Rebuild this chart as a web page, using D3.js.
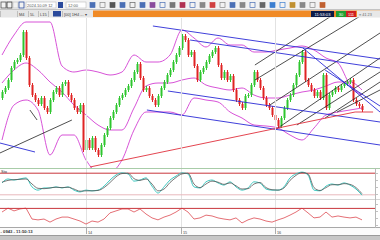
<!DOCTYPE html>
<meta charset="utf-8">
<head>
<style>
body { margin: 0; background: #fff; }
svg { display: block; font-family: "Liberation Sans", Arial, sans-serif; }
</style>
</head>
<body>
<div id="chart"></div>
<script src="https://d3js.org/d3.v7.min.js"></script>
<script>

// ---- data ----
var firstOpen = 107.0;
var closes = [107.6,108.0,108.8,110.0,110.6,110.8,111.3,113.6,111.0,108.3,
  107.3,106.8,106.4,107.0,106.0,105.6,106.8,107.6,108.0,107.3,
  108.4,108.6,107.3,106.8,106.0,105.6,106.3,101.8,102.8,102.0,
  103.0,101.8,101.3,102.3,103.3,104.0,105.0,105.6,106.3,107.0,
  107.3,107.8,108.2,108.8,109.6,110.4,109.0,107.8,108.0,107.2,
  106.8,106.3,107.2,108.0,108.6,109.3,109.8,110.6,111.3,112.0,
  113.2,112.8,111.3,111.6,110.2,108.8,109.6,110.0,110.6,111.2,
  111.6,112.0,110.3,109.0,109.6,108.8,109.2,107.8,106.8,106.4,
  106.0,107.2,107.3,108.3,109.6,108.8,108.0,107.0,106.3,106.0,
  105.3,104.8,104.2,105.0,106.0,106.8,107.3,108.3,109.3,110.6,
  111.6,108.8,108.3,107.8,107.2,107.6,107.0,109.3,106.0,107.3,
  107.6,108.0,107.8,108.2,108.4,108.6,108.8,106.8,106.4,106.2,
  105.8];

// bollinger bands, one value every 4 candles
var bbUpper = [111.3,113.3,114.6,114.6,114.6,110.2,109.6,109.8,109.6,109.3,109.6,111.3,110.6,110.6,111.3,113.8,
  113.0,112.1,113.0,112.3,112.3,111.6,111.6,111.8,112.0,112.2,111.8,111.0,110.5,108.3,107.3];
var bbMid = [108.5,109.8,110.5,109.8,108.6,107.6,106.3,105.3,104.3,103.8,103.8,106.0,108.2,108.5,108.5,108.8,
  109.0,108.3,108.0,107.8,108.0,107.3,107.0,107.0,107.3,107.6,107.8,108.2,108.6,108.6,107.8];
var bbLower = [102.8,106.3,106.8,105.8,101.3,103.3,103.3,100.8,99.6,99.6,100.8,103.8,105.6,105.6,105.6,105.3,
  107.0,106.8,106.6,105.6,105.0,104.3,104.2,104.0,103.3,102.8,104.0,105.3,105.6,105.8,106.0];

// oscillators, one value every 2 candles
var stochK = [53,64,61,64,67,42,33,39,39,42,39,42,33,28,33,31,33,44,61,75,81,78,58,61,67,44,25,42,61,72,
  81,78,42,39,56,61,53,47,56,42,33,39,56,53,36,33,33,42,67,78,83,75,33,31,44,50,47,53,47,36,19];
var stochD = [55,60,62,63,64,50,38,37,39,41,40,41,36,30,31,31,32,40,54,70,79,80,65,60,64,50,31,36,54,68,
  78,80,50,40,50,58,55,49,53,45,36,37,50,54,40,34,33,39,60,74,82,78,40,32,40,48,48,51,49,40,23];
var rsi = [57,71,61,68,71,32,29,32,21,32,39,39,32,25,14,25,21,32,54,61,68,68,57,68,50,36,29,39,46,57,
  71,57,32,36,46,43,36,32,29,36,18,29,36,32,25,21,29,36,46,57,71,54,36,39,57,39,43,39,36,39,29];

var dayBreaks = [28, 59.7, 91];
var dayLabels = ["14", "15", "16"];

// drawn objects: [startIndex, startPrice, endIndex, endPrice]
var blueLines = [[50.3,114.2,126,110.9],[62.7,112.8,126,110.0],[55.3,107.7,126,104.6],[48.3,105.8,126,102.3],
  [-0.7,102.5,11,101.6],[100.3,112.0,126,105.6],[107.7,109.8,126,106.2]];
var blackLines = [[84.3,110.3,110.3,115.3],[84.3,108.8,120,115.3],[89.3,106.3,126,113.5],[91,103.8,126,111.0],
  [98.3,104.3,126,109.6],[107.7,105.0,126,108.6],[111.7,105.6,126,107.8],[-0.7,101.5,23.3,104.8],[9.3,105.8,11.7,104.8]];
var redLines = [[29.3,100.1,117.7,105.6],[117.7,105.6,123.7,105.6]];

var stochLevels = [80, 20];
var rsiLevels = [70];

// ---- layout ----
var W = 380, H = 240;
var svg = d3.select("#chart").append("svg").attr("width", W).attr("height", H);

var x = d3.scaleLinear().domain([0, 120]).range([2, 362]);
var y = d3.scaleLinear().domain([100, 115.1]).range([168, 17]);
var yS = d3.scaleLinear().domain([0, 100]).range([202, 166]);
var yR = d3.scaleLinear().domain([0, 100]).range([228, 200]);

// toolbar
svg.append("rect").attr("x", 0).attr("y", 0).attr("width", W).attr("height", 10).attr("fill", "#f2f2f2");
svg.append("line").attr("x1", 0).attr("x2", W).attr("y1", 9.5).attr("y2", 9.5).attr("stroke", "#c4c4c4");
var iconCols = ["#555","#333","#c8c8c8","#2b4a9c"];
iconCols.forEach(function(c, i) {
  svg.append("rect").attr("x", 1 + i * 6).attr("y", 2).attr("width", 5).attr("height", 6).attr("fill", "none").attr("stroke", c).attr("stroke-width", 0.8);
});
svg.append("rect").attr("x", 26).attr("y", 2).attr("width", 30).attr("height", 6).attr("fill", "#fff").attr("stroke", "#b0b0b0").attr("stroke-width", 0.5);
svg.append("text").attr("x", 27).attr("y", 6.8).attr("font-size", 4).attr("fill", "#555").text("2024.10.09 12");
svg.append("rect").attr("x", 58).attr("y", 2).attr("width", 5).attr("height", 6).attr("fill", "#2b4a9c");
svg.append("rect").attr("x", 66).attr("y", 2).attr("width", 20).attr("height", 6).attr("fill", "#fff").attr("stroke", "#b0b0b0").attr("stroke-width", 0.5);
svg.append("text").attr("x", 68).attr("y", 6.8).attr("font-size", 4).attr("fill", "#555").text("12:00");
var tools = ["#4a6fb5","#888","#555","#4a6fb5","#666","#4a6fb5","#8a4a9c","#4a6fb5","#777","#b03050","#4a6fb5","#888",
  "#d04040","#888","#4a6fb5","#888","#4a6fb5","#666","#3c7fd0","#3c7fd0","#c09030","#888","#888","#c06030"];
tools.forEach(function(c, i) {
  svg.append("rect").attr("x", 90 + i * 10).attr("y", 2.5).attr("width", 5).attr("height", 5)
    .attr("fill", i % 3 == 1 ? "none" : c).attr("stroke", c).attr("stroke-width", 0.7);
});

// tab bar
svg.append("rect").attr("x", 0).attr("y", 10).attr("width", W).attr("height", 7.5).attr("fill", "#e6e6e6");
svg.append("rect").attr("x", 93).attr("y", 10.5).attr("width", W - 93).attr("height", 6.5).attr("fill", "#f08a26");
var tabs = [[0, "   "], [17, "M4"], [28, "5L"], [38, "L15"], [48, ""], [62, "[00] 1H4 ...  \u25BE"]];
tabs.forEach(function(t) {
  svg.append("line").attr("x1", t[0] + 0.5).attr("x2", t[0] + 0.5).attr("y1", 11).attr("y2", 17).attr("stroke", "#999").attr("stroke-width", 0.5);
  svg.append("text").attr("x", t[0] + 2).attr("y", 15.5).attr("font-size", 4).attr("fill", "#444").text(t[1]);
});
svg.append("rect").attr("x", 53).attr("y", 11).attr("width", 8).attr("height", 5.5).attr("fill", "#2b4a9c");
svg.append("rect").attr("x", 311).attr("y", 11).attr("width", 23).attr("height", 6).attr("fill", "#0b1a48");
svg.append("text").attr("x", 322.5).attr("y", 15.6).attr("font-size", 4.2).attr("fill", "#fff").attr("text-anchor", "middle").text("11:53:03");
svg.append("rect").attr("x", 336).attr("y", 11).attr("width", 10).attr("height", 6).attr("fill", "#20a030");
svg.append("text").attr("x", 341).attr("y", 15.6).attr("font-size", 4).attr("fill", "#fff").attr("text-anchor", "middle").text("30");
svg.append("rect").attr("x", 346).attr("y", 11).attr("width", 10).attr("height", 6).attr("fill", "#d02020");
svg.append("text").attr("x", 351).attr("y", 15.6).attr("font-size", 4).attr("fill", "#fff").attr("text-anchor", "middle").text("111");
svg.append("rect").attr("x", 357).attr("y", 10.5).attr("width", 23).attr("height", 6.5).attr("fill", "#e8e8e8");
svg.append("text").attr("x", 359).attr("y", 15.5).attr("font-size", 3.8).attr("fill", "#666").text("\u2261 41  23");

// main panel
svg.append("clipPath").attr("id", "clipMain").append("rect").attr("x", 0).attr("y", 17.5).attr("width", W).attr("height", 150.5);
var main = svg.append("g").attr("clip-path", "url(#clipMain)");

// day separators
dayBreaks.forEach(function(d) {
  svg.append("line").attr("x1", Math.round(x(d)) + 0.5).attr("x2", Math.round(x(d)) + 0.5)
    .attr("y1", 18).attr("y2", 228).attr("stroke", "#e2e2e2").attr("stroke-width", 1);
});

// bollinger bands
var bandIdx = function(i) { return x(i * 4); };
[bbUpper, bbMid, bbLower].forEach(function(b) {
  main.append("path").datum(b)
    .attr("fill", "none").attr("stroke", "#d23fd2").attr("stroke-width", 0.9)
    .attr("d", d3.line().x(function(d, i) { return bandIdx(i); }).y(function(d) { return y(d); }).curve(d3.curveMonotoneX));
});

// candles
var candles = closes.map(function(c, i) { return {i: i, o: i ? closes[i - 1] : firstOpen, c: c}; });
var cg = main.append("g");
cg.selectAll("line").data(candles).enter().append("line")
  .attr("x1", function(d) { return Math.round(x(d.i)) + 0.5; })
  .attr("x2", function(d) { return Math.round(x(d.i)) + 0.5; })
  .attr("y1", function(d) { return y(Math.max(d.o, d.c)) - 2; })
  .attr("y2", function(d) { return y(Math.min(d.o, d.c)) + 2; })
  .attr("stroke", function(d) { return d.c >= d.o ? "#2fc62f" : "#e02424"; })
  .attr("stroke-width", 1);
cg.selectAll("rect").data(candles).enter().append("rect")
  .attr("x", function(d) { return Math.round(x(d.i)) - 0.5; })
  .attr("width", 2)
  .attr("y", function(d) { return y(Math.max(d.o, d.c)); })
  .attr("height", function(d) { return Math.max(1, y(Math.min(d.o, d.c)) - y(Math.max(d.o, d.c))); })
  .attr("fill", function(d) { return d.c >= d.o ? "#2fc62f" : "#e02424"; });

// drawn lines
function drawLines(list, color, w) {
  main.selectAll(null).data(list).enter().append("line")
    .attr("x1", function(d) { return x(d[0]); }).attr("y1", function(d) { return y(d[1]); })
    .attr("x2", function(d) { return x(d[2]); }).attr("y2", function(d) { return y(d[3]); })
    .attr("stroke", color).attr("stroke-width", w);
}
drawLines(blackLines, "#222", 0.8);
drawLines(blueLines, "#2a2ad6", 0.9);
drawLines(redLines, "#e0303c", 0.9);

// panel separators
svg.append("line").attr("x1", 0).attr("x2", W).attr("y1", 168.5).attr("y2", 168.5).attr("stroke", "#a8cca8");
svg.append("line").attr("x1", 0).attr("x2", W).attr("y1", 199.5).attr("y2", 199.5).attr("stroke", "#d4d4d4");
svg.append("line").attr("x1", 0).attr("x2", W).attr("y1", 227.5).attr("y2", 227.5).attr("stroke", "#a8a8a8");
svg.append("line").attr("x1", 375.5).attr("x2", 375.5).attr("y1", 168).attr("y2", 228).attr("stroke", "#b8b8b8");
[173, 180, 187, 194, 204, 211, 218, 225].forEach(function(t) {
  svg.append("line").attr("x1", 376).attr("x2", 378).attr("y1", t + 0.5).attr("y2", t + 0.5).attr("stroke", "#999").attr("stroke-width", 0.6);
});

// stochastic panel
stochLevels.forEach(function(l, i) {
  svg.append("line").attr("x1", 0).attr("x2", 375).attr("y1", yS(l)).attr("y2", yS(l))
    .attr("stroke", i == 0 ? "#c8363c" : "#e8b8bc").attr("stroke-width", 1);
});
var sx = function(d, i) { return x(i * 2); };
svg.append("path").datum(stochK).attr("fill", "none").attr("stroke", "#3cc8c0").attr("stroke-width", 1)
  .attr("d", d3.line().x(sx).y(function(d) { return yS(d); }).curve(d3.curveMonotoneX));
svg.append("path").datum(stochD).attr("fill", "none").attr("stroke", "#555").attr("stroke-width", 0.8)
  .attr("d", d3.line().x(sx).y(function(d) { return yS(d); }).curve(d3.curveMonotoneX));
svg.append("text").attr("x", 1).attr("y", 172.5).attr("font-size", 4).attr("fill", "#333").text("Sto");

// rsi panel
rsiLevels.forEach(function(l) {
  svg.append("line").attr("x1", 0).attr("x2", 375).attr("y1", yR(l)).attr("y2", yR(l)).attr("stroke", "#c8363c").attr("stroke-width", 1);
});
svg.append("path").datum(rsi).attr("fill", "none").attr("stroke", "#d8303a").attr("stroke-width", 0.7)
  .attr("d", d3.line().x(sx).y(function(d) { return yR(d); }));

// time axis
svg.append("rect").attr("x", 0).attr("y", 228).attr("width", W).attr("height", 8).attr("fill", "#fbfbfb");
dayBreaks.forEach(function(d, i) {
  var px = Math.round(x(d)) + 0.5;
  svg.append("line").attr("x1", px).attr("x2", px).attr("y1", 228).attr("y2", 234).attr("stroke", "#777").attr("stroke-width", 0.6);
  svg.append("text").attr("x", px + 1.5).attr("y", 234).attr("font-size", 3.8).attr("fill", "#444").text(dayLabels[i]);
});
svg.append("text").attr("x", 0.5).attr("y", 233).attr("font-size", 4.2).attr("font-weight", "bold").attr("fill", "#333").text("- 0943 - 11:50:13");
svg.append("rect").attr("x", 0).attr("y", 236).attr("width", W).attr("height", 4).attr("fill", "#c6c6c6");
svg.append("line").attr("x1", 0).attr("x2", W).attr("y1", 235.5).attr("y2", 235.5).attr("stroke", "#9a9a9a");
</script>
</body>
